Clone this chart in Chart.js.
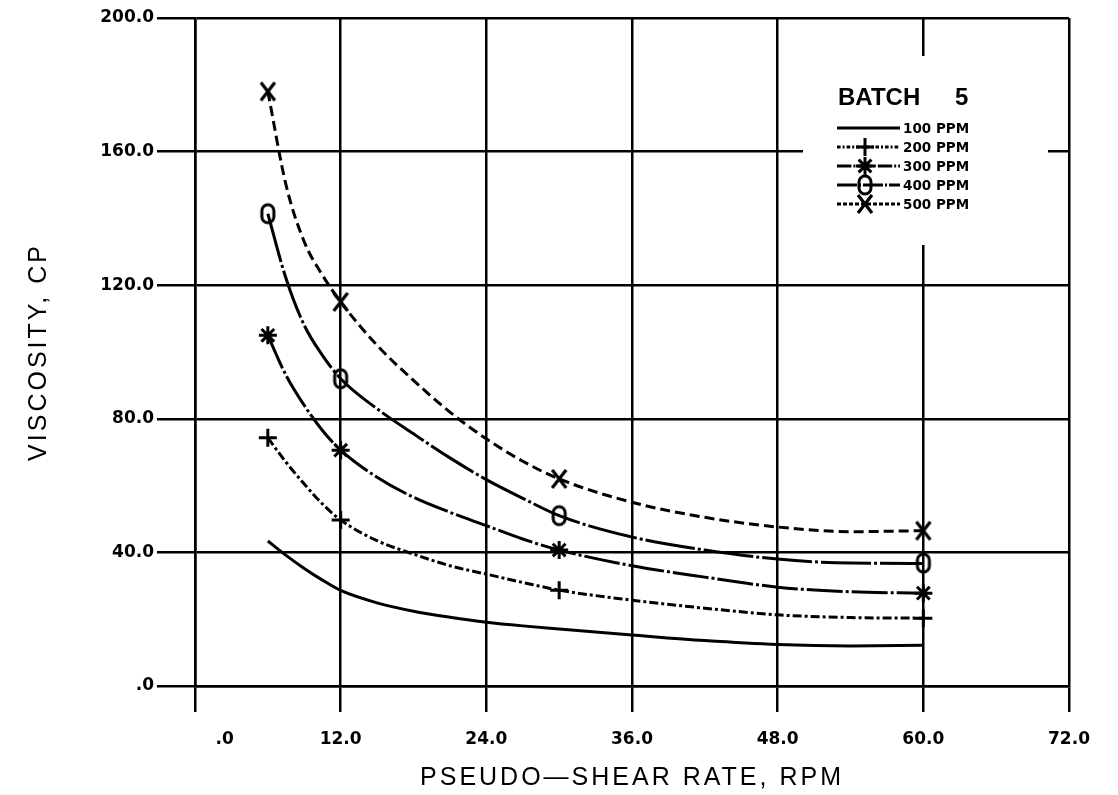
<!DOCTYPE html>
<html>
<head>
<meta charset="utf-8">
<title>Batch 5 - viscosity vs pseudo-shear rate</title>
<script src="https://cdn.jsdelivr.net/npm/chart.js"></script>
<style>
  html, body { margin: 0; padding: 0; background: #fff; }
  #wrap { width: 1118px; height: 795px; }
</style>
</head>
<body>
<div id="wrap"><canvas id="grafica" width="1118" height="795"></canvas></div>
<script>
const curveX = [6, 7.5, 9, 10.5, 12, 15, 18, 21, 24, 27, 30, 36, 42, 48, 54, 60];
const ppm100 = [43.4, 39.1, 35.2, 31.7, 28.6, 24.9, 22.4, 20.6, 19.1, 18.0, 17.1, 15.3, 13.6, 12.4, 12.0, 12.2];
const ppm200 = [74.3, 67.0, 60.5, 54.5, 49.7, 43.5, 39.5, 36.0, 33.5, 31.0, 28.7, 25.7, 23.3, 21.3, 20.5, 20.3];
const ppm300 = [105, 93, 84, 76.5, 70.6, 62.5, 56.5, 52.0, 48.0, 44.0, 40.7, 36.0, 32.6, 29.6, 28.2, 27.8];
const ppm400 = [141.4, 122, 108, 99, 92, 83, 75.5, 68.3, 61.8, 56.2, 51, 44.6, 40.7, 38.0, 36.8, 36.7];
const ppm500 = [178, 150, 133, 123, 115, 102, 91.5, 82, 74, 67.3, 62, 55, 50.5, 47.6, 46.2, 46.5];

const markX = [6, 12, 30, 60];
const mark200 = [74.3, 49.7, 28.7, 20.3];
const mark300 = [105, 70.6, 40.7, 27.8];
const mark400 = [141.4, 92, 51, 36.8];
const mark500 = [178, 115, 62, 46.5];

const xTickValues = [0, 12, 24, 36, 48, 60, 72];
const xTickLabels = ['\u2007\u2007\u2007\u2007\u2007.0', '12.0', '24.0', '36.0', '48.0', '60.0', '72.0'];
const yTickValues = [0, 40, 80, 120, 160, 200];
const yTickLabels = ['.0', '40.0', '80.0', '120.0', '160.0', '200.0'];

const seriesLabels = ['100 PPM', '200 PPM', '300 PPM', '400 PPM', '500 PPM'];

function toPoints(xs, ys) {
    return xs.map((x, i) => ({ x: x, y: ys[i] }));
}

// markers that chart.js has no shape for
function markerX() {
    const c = document.createElement('canvas');
    c.width = 20; c.height = 24;
    const g = c.getContext('2d');
    g.strokeStyle = '#000';
    g.lineWidth = 3.2;
    g.beginPath();
    g.moveTo(3, 3); g.lineTo(17, 21);
    g.moveTo(17, 3); g.lineTo(3, 21);
    g.stroke();
    return c;
}

function markerO() {
    const c = document.createElement('canvas');
    c.width = 18; c.height = 24;
    const g = c.getContext('2d');
    g.strokeStyle = '#000';
    g.lineWidth = 3;
    g.beginPath();
    g.roundRect(3, 3, 12, 18, 6);
    g.stroke();
    return c;
}

const series = [
    { label: seriesLabels[0], curve: ppm100, marks: null,    dash: [],            style: null },
    { label: seriesLabels[1], curve: ppm200, marks: mark200, dash: [9, 3, 3, 3],   style: 'cross' },
    { label: seriesLabels[2], curve: ppm300, marks: mark300, dash: [36, 3, 3, 3],  style: 'star' },
    { label: seriesLabels[3], curve: ppm400, marks: mark400, dash: [50, 3, 3, 3],  style: markerO() },
    { label: seriesLabels[4], curve: ppm500, marks: mark500, dash: [10, 5],        style: markerX() }
];

const datasets = [];
series.forEach(s => {
    datasets.push({
        label: s.label,
        data: toPoints(curveX, s.curve),
        showLine: true,
        borderColor: '#000',
        borderWidth: 3,
        borderDash: s.dash,
        cubicInterpolationMode: 'monotone',
        pointRadius: 0,
        fill: false
    });
    if (s.marks) {
        datasets.push({
            label: s.label + ' data',
            data: toPoints(markX, s.marks),
            showLine: false,
            pointStyle: s.style,
            pointRadius: 9,
            pointBorderColor: '#000',
            pointBackgroundColor: 'rgba(0,0,0,0)',
            pointBorderWidth: 3
        });
    }
});

function drawMarker(ctx, style, x, y) {
    if (!style) return;
    if (typeof style !== 'string') {
        ctx.drawImage(style, x - style.width / 2, y - style.height / 2);
        return;
    }
    const r = 9;
    ctx.beginPath();
    ctx.moveTo(x - r, y); ctx.lineTo(x + r, y);
    ctx.moveTo(x, y - r); ctx.lineTo(x, y + r);
    if (style === 'star') {
        const d = r * 0.707;
        ctx.moveTo(x - d, y - d); ctx.lineTo(x + d, y + d);
        ctx.moveTo(x + d, y - d); ctx.lineTo(x - d, y + d);
    }
    ctx.stroke();
}

const leyendaYTitulos = {
    id: 'leyendaYTitulos',
    afterDraw(chart) {
        const ctx = chart.ctx;
        const area = chart.chartArea;
        ctx.save();

        // white box of the legend over the grid
        ctx.fillStyle = '#fff';
        ctx.fillRect(803, 56, 245, 189);

        ctx.fillStyle = '#000';
        ctx.strokeStyle = '#000';
        ctx.textBaseline = 'middle';
        ctx.font = 'bold 24px "Liberation Sans"';
        ctx.textAlign = 'left';
        ctx.fillText('BATCH', 838, 98);
        ctx.fillText('5', 955, 98);

        ctx.font = 'bold 13.5px "DejaVu Sans"';
        series.forEach((s, i) => {
            const y = 128 + i * 19;
            ctx.lineWidth = 3;
            ctx.setLineDash(s.dash.map(d => Math.max(d * 0.4, 2)));
            ctx.beginPath();
            ctx.moveTo(837, y); ctx.lineTo(900, y);
            ctx.stroke();
            ctx.setLineDash([]);
            drawMarker(ctx, s.style, 865, y);
            ctx.fillText(s.label, 903, y + 1);
        });

        // axis titles
        ctx.font = '25px "Liberation Sans"';
        ctx.letterSpacing = '3px';
        ctx.textAlign = 'center';
        ctx.fillText('PSEUDO\u2014SHEAR RATE, RPM', (area.left + area.right) / 2, 778);
        ctx.translate(39, (area.top + area.bottom) / 2);
        ctx.rotate(-Math.PI / 2);
        ctx.fillText('VISCOSITY, CP', 0, 0);
        ctx.restore();
    }
};

const lineasEjes = {
    color: '#000',
    lineWidth: 2.5,
    tickColor: '#000',
    tickWidth: 2.5
};

Chart.defaults.font.family = '"DejaVu Sans"';
Chart.defaults.color = '#000';

new Chart(document.getElementById('grafica'), {
    type: 'scatter',
    data: { datasets: datasets },
    options: {
        responsive: false,
        animation: false,
        layout: { padding: { left: 0, top: 18, right: 49, bottom: 0 } },
        plugins: {
            legend: { display: false },
            tooltip: { enabled: false }
        },
        scales: {
            x: {
                type: 'linear',
                min: 0,
                max: 72,
                afterBuildTicks: scale => { scale.ticks = xTickValues.map(v => ({ value: v })); },
                afterFit: scale => { scale.height = 109; },
                grid: Object.assign({ tickLength: 26 }, lineasEjes),
                border: { color: '#000', width: 2.5 },
                ticks: {
                    autoSkip: false,
                    maxRotation: 0,
                    padding: 17,
                    font: { size: 17, weight: 'bold' },
                    callback: v => xTickLabels[xTickValues.indexOf(v)]
                }
            },
            y: {
                type: 'linear',
                min: 0,
                max: 200,
                afterBuildTicks: scale => { scale.ticks = yTickValues.map(v => ({ value: v })); },
                afterFit: scale => { scale.width = 195; },
                grid: Object.assign({ tickLength: 38 }, lineasEjes),
                border: { color: '#000', width: 2.5 },
                ticks: {
                    autoSkip: false,
                    padding: 3,
                    font: { size: 17, weight: 'bold' },
                    callback: v => yTickLabels[yTickValues.indexOf(v)]
                }
            }
        }
    },
    plugins: [leyendaYTitulos]
});
</script>
</body>
</html>
